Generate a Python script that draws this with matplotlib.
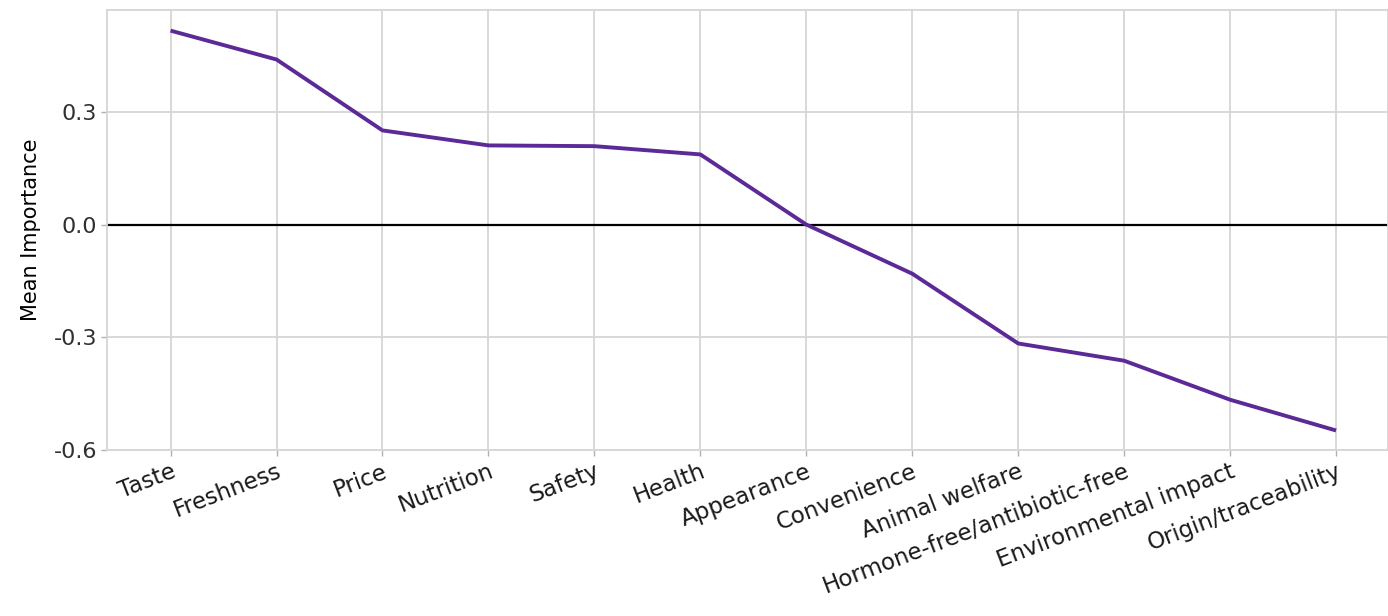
import matplotlib
matplotlib.use("Agg")
import matplotlib.pyplot as plt

categories = ["Taste", "Freshness", "Price", "Nutrition", "Safety", "Health",
              "Appearance", "Convenience", "Animal welfare",
              "Hormone-free/antibiotic-free", "Environmental impact",
              "Origin/traceability"]
mean_importance = [0.517, 0.440, 0.251, 0.211, 0.209, 0.187,
                   0.000, -0.131, -0.317, -0.363, -0.467, -0.549]
y_ticks = [-0.6, -0.3, 0.0, 0.3]

plt.rcParams['font.family'] = ['DejaVu Sans']

fig = plt.figure(figsize=(13.88, 6.16), dpi=100)
ax = fig.add_axes([107/1388, 1 - 450/616, 1 - 107/1388, 440/616])

x = list(range(1, len(categories) + 1))
ax.axhline(0, color='black', lw=1.6, zorder=2)
ax.plot(x, mean_importance, color='#5b2a96', lw=2.8, zorder=3,
        solid_joinstyle='round', solid_capstyle='butt')

ax.set_xlim(0.4, 12.49)
ax.set_ylim(-0.601, 0.572)
ax.set_xticks(x)
ax.set_xticklabels(categories, rotation=21, ha='right', rotation_mode='anchor',
                   fontsize=16.5, color='#1a1a1a')
ax.set_yticks(y_ticks)
ax.set_yticklabels([f"{v:.1f}" for v in y_ticks], fontsize=16, color='#303030')
ax.set_ylabel("Mean Importance", fontsize=15, color='black')
ax.yaxis.set_label_coords((41 - 107) / 1281, 0.5)

ax.grid(True, color='#d6d6d6', lw=1.3, zorder=0)
ax.set_axisbelow(True)
for s in ax.spines.values():
    s.set_color('#d6d6d6')
    s.set_linewidth(1.3)
ax.tick_params(axis='both', length=4, width=1.0, color='#b0b0b0', pad=3)

fig.savefig("out.png", dpi=100)
